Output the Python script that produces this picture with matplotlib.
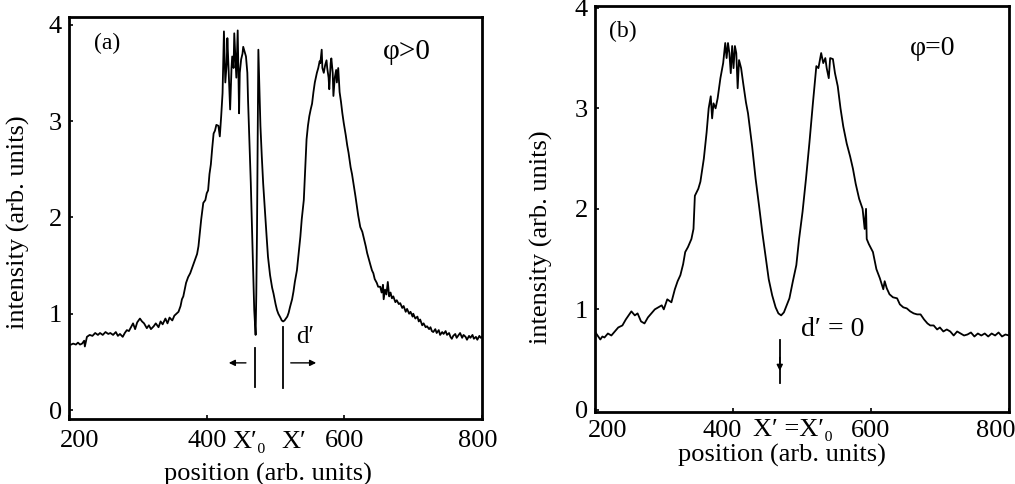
import matplotlib
matplotlib.use("Agg")
import matplotlib.pyplot as plt
from matplotlib.transforms import ScaledTranslation

plt.rcParams['font.family'] = ['Liberation Serif', 'DejaVu Serif']

# ---------------- data: panel (a), phi > 0 ----------------
xa = [203, 206, 210, 213, 216, 219, 222, 223, 226, 230, 234, 238, 242, 245, 249, 253, 257, 260,
      264, 268, 271, 274, 278, 281, 284, 287, 290, 293, 296, 299, 303, 306, 309, 313, 316, 319,
      323, 326, 330, 333, 336, 340, 343, 346, 350, 353, 356, 359, 362, 364, 366, 368, 370, 373,
      376, 379, 383, 386, 388, 390, 392, 395, 398, 400, 402, 404, 406, 408, 410, 412, 414, 417,
      419, 421, 423, 425, 427, 429, 430, 432, 434, 436, 437, 439, 440, 442, 443, 444, 445, 447,
      448, 450, 452, 453, 455, 457, 459, 460, 462, 464, 466, 467, 469, 471, 472, 473, 475, 477,
      478, 480, 482, 485, 487, 489, 492, 495, 497, 500, 502, 504, 507, 509, 511, 513, 515, 517,
      519, 521, 524, 526, 528, 531, 533, 536, 538, 541, 543, 545, 547, 549, 551, 553, 555, 557,
      560, 562, 564, 565, 567, 568, 570, 572, 574, 575, 577, 578, 580, 581, 583, 584, 586, 588,
      589, 591, 593, 595, 597, 599, 602, 604, 606, 609, 611, 613, 616, 618, 620, 623, 626, 629,
      631, 633, 636, 638, 640, 642, 644, 647, 649, 652, 654, 656, 657, 659, 661, 663, 665, 667,
      669, 671, 674, 676, 679, 681, 684, 686, 689, 691, 694, 696, 699, 700, 703, 706, 708, 710,
      713, 715, 718, 720, 723, 725, 727, 729, 732, 734, 737, 739, 742, 744, 747, 749, 752, 754,
      756, 758, 761, 763, 766, 768, 771, 773, 776, 778, 781, 783, 786, 788, 791, 793, 796, 798, 800]
ya = [0.68, 0.69, 0.68, 0.70, 0.68, 0.69, 0.72, 0.66, 0.76, 0.78, 0.77, 0.80, 0.78, 0.80, 0.78, 0.81, 0.79, 0.80,
      0.78, 0.81, 0.77, 0.79, 0.76, 0.80, 0.83, 0.82, 0.86, 0.90, 0.84, 0.91, 0.95, 0.92, 0.90, 0.85, 0.88, 0.84,
      0.87, 0.90, 0.86, 0.92, 0.89, 0.95, 0.90, 0.96, 0.93, 0.98, 1.00, 1.02, 1.08, 1.15, 1.18, 1.25, 1.32, 1.38,
      1.42, 1.48, 1.56, 1.62, 1.70, 1.84, 1.98, 2.15, 2.18, 2.25, 2.28, 2.45, 2.55, 2.72, 2.87, 2.90, 2.96, 2.95,
      2.84, 3.05, 3.29, 3.93, 3.40, 3.60, 3.86, 3.50, 3.12, 3.55, 3.67, 3.55, 3.91, 3.60, 3.45, 3.70, 3.94, 3.08,
      3.50, 3.64, 3.70, 3.77, 3.72, 3.67, 3.50, 3.22, 2.80, 2.36, 1.80, 1.56, 1.04, 0.78, 1.20, 1.84, 3.74, 3.22,
      2.95, 2.63, 2.35, 2.01, 1.80, 1.59, 1.40, 1.27, 1.21, 1.10, 1.04, 1.00, 0.96, 0.93, 0.92, 0.93, 0.95, 0.97,
      1.01, 1.07, 1.15, 1.23, 1.33, 1.45, 1.59, 1.80, 1.98, 2.18, 2.50, 2.81, 2.95, 3.05, 3.12, 3.18, 3.30, 3.40,
      3.50, 3.55, 3.62, 3.60, 3.74, 3.55, 3.50, 3.58, 3.63, 3.55, 3.45, 3.33, 3.60, 3.65, 3.50, 3.26, 3.45, 3.53,
      3.40, 3.55, 3.30, 3.20, 3.08, 2.98, 2.85, 2.75, 2.67, 2.52, 2.45, 2.36, 2.22, 2.12, 2.02, 1.90, 1.85, 1.76,
      1.70, 1.63, 1.55, 1.50, 1.45, 1.42, 1.36, 1.32, 1.28, 1.28, 1.22, 1.30, 1.15, 1.25, 1.20, 1.33, 1.18, 1.22,
      1.16, 1.18, 1.12, 1.14, 1.10, 1.11, 1.06, 1.08, 1.02, 1.05, 1.00, 1.02, 0.97, 1.00, 0.95, 0.97, 0.92, 0.94,
      0.88, 0.90, 0.86, 0.87, 0.84, 0.86, 0.82, 0.81, 0.84, 0.80, 0.83, 0.78, 0.81, 0.79, 0.82, 0.78, 0.80, 0.76,
      0.74, 0.77, 0.79, 0.75, 0.78, 0.80, 0.75, 0.78, 0.76, 0.73, 0.77, 0.75, 0.78, 0.74, 0.76, 0.73, 0.77, 0.75, 0.76]

# ---------------- data: panel (b), phi = 0 ----------------
xb = [200, 204, 208, 211, 214, 219, 224, 229, 234, 240, 245, 250, 253, 258, 262, 267, 272, 277,
      282, 287, 292, 297, 300, 305, 311, 316, 320, 324, 328, 331, 335, 340, 343, 345, 350, 353,
      358, 362, 365, 368, 370, 372, 375, 378, 382, 386, 389, 391, 393, 395, 397, 399, 401, 403,
      405, 407, 409, 412, 415, 419, 422, 428, 433, 438, 443, 448, 452, 457, 462, 466, 470, 474,
      478, 482, 487, 492, 496, 501, 506, 511, 516, 521, 524, 528, 531, 534, 536, 539, 541, 545,
      548, 552, 556, 560, 565, 570, 574, 578, 583, 588, 591, 593, 594, 597, 603, 608, 613, 618,
      620, 623, 627, 632, 638, 642, 647, 652, 657, 662, 667, 672, 677, 682, 686, 691, 696, 700,
      705, 710, 715, 720, 725, 730, 735, 740, 745, 750, 755, 760, 765, 770, 775, 780, 785, 790,
      795, 800]
yb = [0.78, 0.74, 0.70, 0.73, 0.72, 0.76, 0.74, 0.78, 0.82, 0.84, 0.90, 0.95, 0.98, 0.94, 0.96, 0.88, 0.86, 0.92,
      0.96, 1.00, 1.02, 1.04, 1.00, 1.10, 1.07, 1.20, 1.28, 1.34, 1.45, 1.57, 1.62, 1.70, 1.80, 2.13, 2.20, 2.27,
      2.50, 2.76, 3.00, 3.12, 2.90, 3.05, 3.00, 3.10, 3.30, 3.45, 3.65, 3.50, 3.65, 3.55, 3.35, 3.62, 3.40, 3.62,
      3.55, 3.20, 3.48, 3.40, 3.25, 3.06, 2.95, 2.62, 2.30, 2.03, 1.75, 1.50, 1.30, 1.14, 1.02, 0.96, 0.94, 0.97,
      1.04, 1.11, 1.28, 1.44, 1.70, 1.97, 2.30, 2.66, 3.05, 3.42, 3.40, 3.55, 3.45, 3.50, 3.40, 3.30, 3.50, 3.49,
      3.35, 3.22, 3.00, 2.82, 2.65, 2.52, 2.40, 2.25, 2.10, 2.00, 1.80, 2.00, 1.70, 1.65, 1.57, 1.40, 1.31, 1.20,
      1.28, 1.21, 1.15, 1.12, 1.11, 1.05, 1.02, 1.01, 0.98, 0.96, 0.95, 0.95, 0.90, 0.86, 0.84, 0.84, 0.80, 0.82,
      0.78, 0.80, 0.78, 0.74, 0.78, 0.76, 0.74, 0.75, 0.77, 0.73, 0.76, 0.74, 0.76, 0.73, 0.76, 0.74, 0.77, 0.73,
      0.75, 0.74]

xticks = [200, 400, 600, 800]
yticks = [0, 1, 2, 3, 4]

# annotation positions (data units)
x0_a, xp_a = 470, 511      # X'_0 and X' in panel (a)
xp_b = 468                 # X' = X'_0 in panel (b)

fig = plt.figure(figsize=(10.15, 4.84), dpi=100)
axa = fig.add_axes([0.068, 0.134, 0.407, 0.831])
axb = fig.add_axes([0.586, 0.149, 0.408, 0.839])

for ax in (axa, axb):
    for s in ax.spines.values():
        s.set_linewidth(2.0)
    ax.set_xlim(200, 800)
    ax.set_xticks(xticks)
    ax.set_yticks(yticks)
    ax.tick_params(direction='in', length=3, width=1.2, labelsize=19)
    ax.tick_params(axis='y', pad=5)
    ax.set_xlabel('position (arb. units)', fontsize=19)
    ax.set_ylabel('intensity (arb. units)', fontsize=19)

axa.tick_params(axis='x', pad=8)
axb.tick_params(axis='x', pad=6)

axa.xaxis.set_label_coords(0.482, -0.108)
axa.yaxis.set_label_coords(-0.094, 0.49)
axb.xaxis.set_label_coords(0.452, -0.080)
axb.yaxis.set_label_coords(-0.101, 0.43)

axa.set_ylim(-0.094, 4.08)
axb.set_ylim(-0.02, 4.02)

axa.plot(xa, ya, color='black', lw=1.3)
axb.plot(xb, yb, color='black', lw=1.3)

# panel (a) annotations
axa.text(255, 3.80, '(a)', fontsize=17, ha='center', va='center')
axa.text(691, 3.72, 'φ>0', fontsize=21, ha='center', va='center')
axa.plot([x0_a, x0_a], [0.24, 0.64], color='black', lw=1.3)
axa.plot([xp_a, xp_a], [0.23, 0.86], color='black', lw=1.3)
axa.annotate('', xy=(428, 0.49), xytext=(461, 0.49),
             arrowprops=dict(arrowstyle='-|>', color='black', lw=1.0, mutation_scale=9))
axa.annotate('', xy=(563, 0.49), xytext=(518, 0.49),
             arrowprops=dict(arrowstyle='-|>', color='black', lw=1.0, mutation_scale=9))
axa.text(543, 0.76, "d′", fontsize=18, ha='center', va='center')
axa.text(x0_a - 8, -0.33, "X′₀", fontsize=19, ha='center', va='center')
axa.text(xp_a + 16, -0.33, "X′", fontsize=19, ha='center', va='center')

# panel (b) annotations
axb.text(241, 3.76, '(b)', fontsize=17, ha='center', va='center')
axb.text(690, 3.60, 'φ=0', fontsize=20, ha='center', va='center')
axb.text(545, 0.80, "d′ = 0", fontsize=20, ha='center', va='center')
axb.plot([xp_b, xp_b], [0.27, 0.70], color='black', lw=1.3)
axb.annotate('', xy=(xp_b, 0.36), xytext=(xp_b, 0.55),
             arrowprops=dict(arrowstyle='-|>', color='black', lw=1.0, mutation_scale=9))
axb.text(487, -0.20, "X′ =X′₀", fontsize=19, ha='center', va='center')

# small horizontal shifts of some tick labels, as in the original
def shift_label(ax, text, dx_px):
    for lab in ax.get_xticklabels():
        if lab.get_text() == text:
            lab.set_transform(lab.get_transform() +
                              ScaledTranslation(dx_px / 100.0, 0, fig.dpi_scale_trans))

shift_label(axa, '200', 11)
shift_label(axa, '800', -4)
shift_label(axb, '200', 13)
shift_label(axb, '400', -11)
shift_label(axb, '800', -13)

fig.savefig('out.png', dpi=100)
